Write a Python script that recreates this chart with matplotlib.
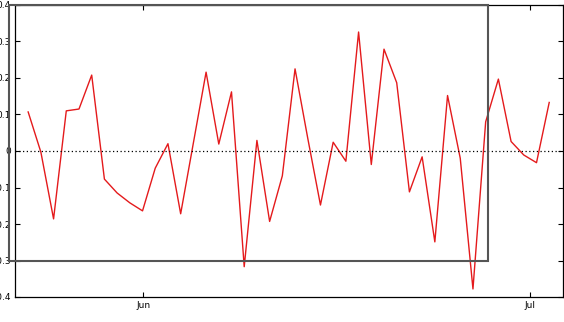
import matplotlib
matplotlib.use("Agg")
import matplotlib.pyplot as plt
import matplotlib.dates as mdates
from matplotlib.patches import Rectangle
from matplotlib.ticker import FuncFormatter, MultipleLocator
import pandas as pd

# Werte
zeit = pd.date_range("2023-05-23 02:00", periods=42, freq="23h40min")
werte = [0.107, -0.003, -0.186, 0.110, 0.115, 0.208, -0.077, -0.115, -0.142, -0.164,
         -0.047, 0.020, -0.172, 0.022, 0.216, 0.019, 0.162, -0.317, 0.029, -0.193,
         -0.068, 0.225, 0.035, -0.148, 0.024, -0.028, 0.326, -0.037, 0.279, 0.187,
         -0.112, -0.016, -0.249, 0.152, -0.020, -0.378, 0.080, 0.197, 0.026, -0.011,
         -0.032, 0.133]

x_min, x_max = pd.Timestamp("2023-05-22 01:30"), pd.Timestamp("2023-07-03 14:00")
box_x0, box_x1 = pd.Timestamp("2023-05-21 14:00"), pd.Timestamp("2023-06-27 19:00")
box_y0, box_y1 = -0.3, 0.4

fig = plt.figure(figsize=(5.64, 3.22), dpi=100)
ax = fig.add_axes([15 / 564, 25 / 322, 548 / 564, 292 / 322])

ax.plot(zeit, werte, color="#e41a1c", linewidth=1.0)
ax.axhline(0, color="black", linestyle=(0, (1, 2)), linewidth=0.9)

# grauer Rahmen, ragt links aus der Achse heraus
x0 = mdates.date2num(box_x0)
x1 = mdates.date2num(box_x1)
ax.add_patch(Rectangle((x0, box_y0), x1 - x0, box_y1 - box_y0, fill=False,
                       edgecolor="#555555", linewidth=1.5, clip_on=False, zorder=3))

ax.set_xlim(x_min, x_max)
ax.set_ylim(-0.4, 0.4)
ax.yaxis.set_major_locator(MultipleLocator(0.1))
ax.yaxis.set_major_formatter(FuncFormatter(lambda v, p: "%g" % round(v, 2)))
ax.xaxis.set_major_locator(mdates.MonthLocator())
ax.xaxis.set_major_formatter(mdates.DateFormatter("%b"))

ax.tick_params(direction="in", top=True, right=True, length=3.5, width=0.8,
               labelsize=6.5, pad=3)
for s in ax.spines.values():
    s.set_linewidth(0.9)

fig.savefig("out.png", dpi=100)
